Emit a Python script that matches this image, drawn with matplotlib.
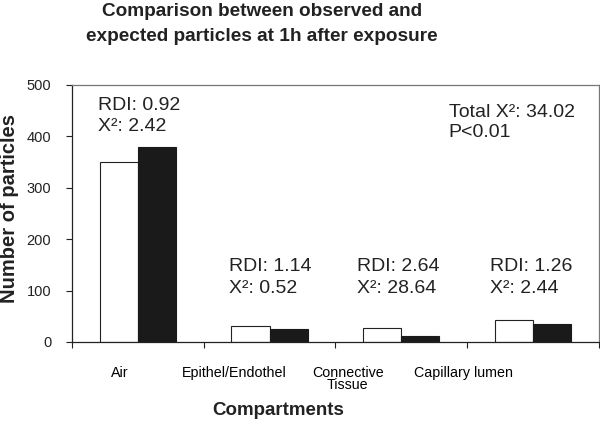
import matplotlib
matplotlib.use('Agg')
import matplotlib.pyplot as plt
import numpy as np

plt.rcParams['font.family'] = ['Liberation Sans', 'DejaVu Sans']

# data
compartments = ['Air', 'Epithel/Endothel', 'Connective\nTissue', 'Capillary lumen']
observed = [351, 31, 27, 43]
expected = [380, 25, 12, 35]
rdi = ['0.92', '1.14', '2.64', '1.26']
chi2 = ['2.42', '0.52', '28.64', '2.44']
total_chi2 = '34.02'
p_text = 'P<0.01'
title_lines = ['Comparison between observed and', 'expected particles at 1h after exposure']

fig = plt.figure(figsize=(6.0, 4.22), dpi=100)
ax = fig.add_axes([0.12, 0.1896, 0.878, 0.609])

x = np.arange(len(compartments))
w = 0.29
ax.bar(x - w / 2, observed, w, color='white', edgecolor='#222222', linewidth=0.8)
ax.bar(x + w / 2, expected, w, color='#1a1a1a', edgecolor='#1a1a1a', linewidth=0.8)

ax.set_xlim(-0.5, 3.5)
ax.set_ylim(0, 500)
ax.set_yticks(range(0, 501, 100))
ax.tick_params(axis='y', direction='out', length=4, width=0.8, labelsize=10.5, pad=11, colors='#222222')

# ticks at the category boundaries, labels placed separately
ax.set_xticks(np.arange(-0.5, 4, 1))
ax.set_xticklabels([])
ax.tick_params(axis='x', which='major', direction='out', length=4, width=0.8, colors='#222222')
label_x = [-0.136, 0.73, 1.595, 2.475]
ax.set_xticks(label_x, compartments, minor=True)
ax.tick_params(axis='x', which='minor', length=0, labelsize=10.3, pad=17)
for lbl in ax.get_xticklabels(minor=True):
    lbl.set_linespacing(0.88)
    lbl.set_verticalalignment('top')

for side in ['left', 'bottom']:
    ax.spines[side].set_color('#222222')
    ax.spines[side].set_linewidth(0.9)
for side in ['top', 'right']:
    ax.spines[side].set_color('#777777')
    ax.spines[side].set_linewidth(0.9)

# annotations
ann_x = [-0.303, 0.692, 1.663, 2.673]
ann_y = [461, 146, 146, 146]
for i in range(4):
    ax.text(ann_x[i], ann_y[i], 'RDI: ' + rdi[i], fontsize=14, ha='left', va='center', color='#222222')
    ax.text(ann_x[i], ann_y[i] - 41, 'X\u00b2: ' + chi2[i], fontsize=14, ha='left', va='center', color='#222222')
ax.text(2.361, 447, 'Total X\u00b2: ' + total_chi2, fontsize=14, ha='left', va='center', color='#222222')
ax.text(2.361, 407, p_text, fontsize=14, ha='left', va='center', color='#222222')

fig.text(0.016, 0.507, 'Number of particles', rotation=90, fontsize=14.5, fontweight='bold',
         ha='center', va='center', color='#222222')
fig.text(0.463, 0.027, 'Compartments', fontsize=13.5, fontweight='bold', ha='center', va='center', color='#222222')
fig.text(0.437, 0.972, title_lines[0], fontsize=13.7, fontweight='bold', ha='center', va='center', color='#222222')
fig.text(0.437, 0.913, title_lines[1], fontsize=13.7, fontweight='bold', ha='center', va='center', color='#222222')

fig.savefig('out.png', dpi=100)
